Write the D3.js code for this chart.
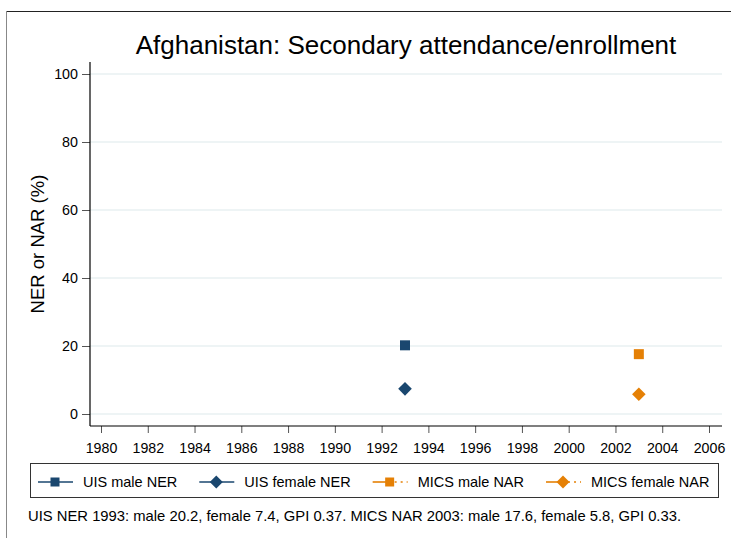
<!DOCTYPE html>
<html>
<head>
<meta charset="utf-8">
<script src="https://cdn.jsdelivr.net/npm/d3@7"></script>
<style>
  body { margin: 0; background: #fff; }
  text { font-family: "Liberation Sans", Arial, sans-serif; fill: #000; }
</style>
</head>
<body>
<div id="chart"></div>
<script>
// Data
const xTicks = [1980, 1982, 1984, 1986, 1988, 1990, 1992, 1994, 1996, 1998, 2000, 2002, 2004, 2006];
const yTicks = [0, 20, 40, 60, 80, 100];
const uisYears = [1993];
const uisMale = [20.2];
const uisFemale = [7.4];
const micsYears = [2003];
const micsMale = [17.6];
const micsFemale = [5.8];
const legendLabels = ["UIS male NER", "UIS female NER", "MICS male NAR", "MICS female NAR"];
const noteText = "UIS NER 1993: male 20.2, female 7.4, GPI 0.37. MICS NAR 2003: male 17.6, female 5.8, GPI 0.33.";

const navy = "#1a476f";
const orange = "#e58005";

const width = 731;
const height = 538;
const svg = d3.select("#chart")
  .append("svg")
  .attr("width", width)
  .attr("height", height);

// outer frame (top and left only)
svg.append("line").attr("x1", 6).attr("x2", width).attr("y1", 11.5).attr("y2", 11.5)
  .attr("stroke", "#222").attr("stroke-width", 1);
svg.append("line").attr("x1", 6.5).attr("x2", 6.5).attr("y1", 11).attr("y2", height)
  .attr("stroke", "#888").attr("stroke-width", 1);

// plot region
const plotLeft = 90, plotRight = 722, plotTop = 62, plotBottom = 426;

// scales
const x = d3.scaleLinear().domain([1980, 2006]).range([101, 709]);
const y = d3.scaleLinear().domain([0, 100]).range([414, 74]);

// gridlines
svg.append("g")
  .selectAll("line")
  .data(yTicks)
  .join("line")
  .attr("x1", plotLeft).attr("x2", plotRight)
  .attr("y1", d => y(d)).attr("y2", d => y(d))
  .attr("stroke", "#e9f0f2").attr("stroke-width", 1.5);

// axes
const yAxis = svg.append("g")
  .attr("transform", `translate(${plotLeft}, 0)`)
  .call(d3.axisLeft(y).tickValues(yTicks).tickSize(8).tickPadding(4));
yAxis.select(".domain").remove();
yAxis.selectAll("text").style("font-size", "14.3px");
yAxis.selectAll(".tick line").attr("stroke", "#555");
svg.append("line").attr("x1", plotLeft).attr("x2", plotLeft).attr("y1", plotTop).attr("y2", plotBottom)
  .attr("stroke", "#000").attr("stroke-width", 1.2);

const xAxis = svg.append("g")
  .attr("transform", `translate(0, ${plotBottom})`)
  .call(d3.axisBottom(x).tickValues(xTicks).tickFormat(d3.format("d")).tickSize(7).tickPadding(10));
xAxis.select(".domain").remove();
xAxis.selectAll("text").style("font-size", "14.2px");
xAxis.selectAll(".tick line").attr("stroke", "#555");
svg.append("line").attr("x1", plotLeft).attr("x2", plotRight).attr("y1", plotBottom).attr("y2", plotBottom)
  .attr("stroke", "#000").attr("stroke-width", 1.2);

// title
svg.append("text")
  .attr("x", (plotLeft + plotRight) / 2)
  .attr("y", 54)
  .attr("text-anchor", "middle")
  .style("font-size", "26px")
  .text("Afghanistan: Secondary attendance/enrollment");

// y label
svg.append("text")
  .attr("transform", "rotate(-90)")
  .attr("x", -244)
  .attr("y", 44)
  .attr("text-anchor", "middle")
  .style("font-size", "18.5px")
  .text("NER or NAR (%)");

// marker shapes
const squarePath = s => `M${-s / 2},${-s / 2}h${s}v${s}h${-s}Z`;
const diamondPath = r => `M0,${-r}L${r},0L0,${r}L${-r},0Z`;

function drawPoints(years, values, color, shape) {
  svg.append("g")
    .selectAll("path")
    .data(years.map((yr, i) => [yr, values[i]]))
    .join("path")
    .attr("transform", d => `translate(${x(d[0])},${y(d[1])})`)
    .attr("d", shape === "square" ? squarePath(10) : diamondPath(6.8))
    .attr("fill", color);
}
drawPoints(uisYears, uisMale, navy, "square");
drawPoints(uisYears, uisFemale, navy, "diamond");
drawPoints(micsYears, micsMale, orange, "square");
drawPoints(micsYears, micsFemale, orange, "diamond");

// legend
svg.append("rect")
  .attr("x", 30.5).attr("y", 463.5)
  .attr("width", 688).attr("height", 34)
  .attr("fill", "#fff").attr("stroke", "#333").attr("stroke-width", 1);

const legendStyles = [
  { color: navy, shape: "square", dotted: false },
  { color: navy, shape: "diamond", dotted: false },
  { color: orange, shape: "square", dotted: true },
  { color: orange, shape: "diamond", dotted: true }
];
let lx = 38;
const ly = 482;
legendLabels.forEach((label, i) => {
  const st = legendStyles[i];
  const g = svg.append("g");
  if (st.dotted) {
    g.append("line").attr("x1", lx).attr("x2", lx + 17).attr("y1", ly).attr("y2", ly)
      .attr("stroke", st.color).attr("stroke-width", 1.6);
    g.append("line").attr("x1", lx + 22).attr("x2", lx + 35).attr("y1", ly).attr("y2", ly)
      .attr("stroke", st.color).attr("stroke-width", 1.6).attr("stroke-dasharray", "2,4");
  } else {
    g.append("line").attr("x1", lx).attr("x2", lx + 35).attr("y1", ly).attr("y2", ly)
      .attr("stroke", st.color).attr("stroke-width", 1.6);
  }
  g.append("path")
    .attr("transform", `translate(${lx + 17},${ly})`)
    .attr("d", st.shape === "square" ? squarePath(9) : diamondPath(6.5))
    .attr("fill", st.color);
  const t = g.append("text")
    .attr("x", lx + 45)
    .attr("y", ly + 5)
    .style("font-size", "14.5px")
    .text(label);
  lx = lx + 45 + t.node().getComputedTextLength() + 22;
});

// note
svg.append("text")
  .attr("x", 28)
  .attr("y", 521)
  .style("font-size", "14.8px")
  .text(noteText);
</script>
</body>
</html>
